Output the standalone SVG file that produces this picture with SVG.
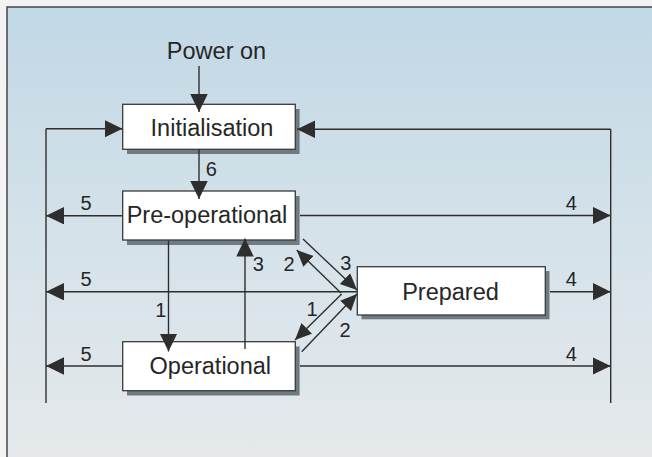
<svg xmlns="http://www.w3.org/2000/svg" width="652" height="457" viewBox="0 0 652 457">
<defs>
<linearGradient id="bg" x1="0" y1="0" x2="0" y2="1">
<stop offset="0" stop-color="#c1d8e5"/>
<stop offset="0.55" stop-color="#d7e3ea"/>
<stop offset="1" stop-color="#e6e9eb"/>
</linearGradient>
<marker id="ah" markerUnits="userSpaceOnUse" markerWidth="19" markerHeight="18" refX="18" refY="8.75" orient="auto">
<path d="M0,0 L18,8.75 L0,17.5 Z" fill="#2e2e2e"/>
</marker>
<marker id="ahs" markerUnits="userSpaceOnUse" markerWidth="17" markerHeight="17" refX="16.5" refY="8" orient="auto">
<path d="M0,0.5 L16.5,8 L0,15.5 Z" fill="#2e2e2e"/>
</marker>
</defs>
<style>
.box{fill:#ffffff;stroke:#3a3a3a;stroke-width:1.3}
.shadow{fill:#6f7b81}
.lbl{font-family:"Liberation Sans",Arial,sans-serif;font-size:23.5px;fill:#262626;text-anchor:middle}
.num{font-family:"Liberation Sans",Arial,sans-serif;font-size:20px;fill:#262626;text-anchor:middle}
.ln{stroke:#2e2e2e;stroke-width:1.4;fill:none}
.arr{stroke:#2e2e2e;stroke-width:1.4;fill:none;marker-end:url(#ah)}
.arrs{stroke:#2e2e2e;stroke-width:1.4;fill:none;marker-end:url(#ahs)}
</style>
<rect x="0" y="0" width="652" height="457" fill="#f3f3f3"/>
<rect x="7" y="7" width="660" height="470" fill="url(#bg)" stroke="#3c3c3c" stroke-width="1.4"/>
<text class="lbl" x="216.5" y="59">Power on</text>
<g id="initialisation">
<rect class="shadow" x="127" y="109" width="172.6" height="45"/>
<rect class="box" x="122.7" y="104.3" width="172.6" height="45"/>
<text class="lbl" x="212" y="136">Initialisation</text>
</g>
<g id="pre-operational">
<rect class="shadow" x="127" y="196" width="172.6" height="49"/>
<rect class="box" x="122.7" y="191" width="172.6" height="49"/>
<text class="lbl" x="207" y="223">Pre-operational</text>
</g>
<g id="operational">
<rect class="shadow" x="127" y="346.5" width="172.6" height="49"/>
<rect class="box" x="122.7" y="341.7" width="172.6" height="49"/>
<text class="lbl" x="210.3" y="374">Operational</text>
</g>
<g id="prepared">
<rect class="shadow" x="361.5" y="271" width="188" height="48.3"/>
<rect class="box" x="357.3" y="266.7" width="188" height="48.3"/>
<text class="lbl" x="450.5" y="299.5">Prepared</text>
</g>
<g id="connectors">
<line class="arr" x1="199" y1="66" x2="199" y2="112"/>
<line class="arr" x1="199" y1="149" x2="199" y2="199"/>
<line class="ln" x1="46" y1="128.8" x2="46" y2="403"/>
<line class="arr" x1="46" y1="128.8" x2="122.5" y2="128.8"/>
<line class="ln" x1="610.7" y1="129.3" x2="610.7" y2="403"/>
<line class="arr" x1="610.7" y1="129.3" x2="297" y2="129.3"/>
<line class="arr" x1="122" y1="215.7" x2="46" y2="215.7"/>
<line class="arr" x1="357" y1="291.7" x2="46" y2="291.7"/>
<line class="arr" x1="122" y1="366" x2="46" y2="366"/>
<line class="arr" x1="300" y1="215.5" x2="610.7" y2="215.5"/>
<line class="arr" x1="550" y1="291.7" x2="610.7" y2="291.7"/>
<line class="arr" x1="300" y1="366" x2="610.7" y2="366"/>
<line class="arr" x1="168.5" y1="240.7" x2="168.5" y2="351.5"/>
<line class="arr" x1="245" y1="349" x2="245" y2="238.5"/>
<line class="arrs" x1="303" y1="239" x2="357" y2="290"/>
<line class="arrs" x1="341" y1="293" x2="296.7" y2="250"/>
<line class="arrs" x1="341.7" y1="294" x2="295" y2="340"/>
<line class="arrs" x1="301.7" y1="351.7" x2="357" y2="294"/>
<text class="num" x="211.3" y="176">6</text>
<text class="num" x="86" y="210">5</text>
<text class="num" x="86" y="286">5</text>
<text class="num" x="86" y="361">5</text>
<text class="num" x="571.3" y="210">4</text>
<text class="num" x="571.3" y="286">4</text>
<text class="num" x="571.3" y="361">4</text>
<text class="num" x="160.7" y="316.7">1</text>
<text class="num" x="258.3" y="271">3</text>
<text class="num" x="345.8" y="270">3</text>
<text class="num" x="289" y="271">2</text>
<text class="num" x="312" y="316">1</text>
<text class="num" x="345" y="336.7">2</text>
</g>
</svg>
